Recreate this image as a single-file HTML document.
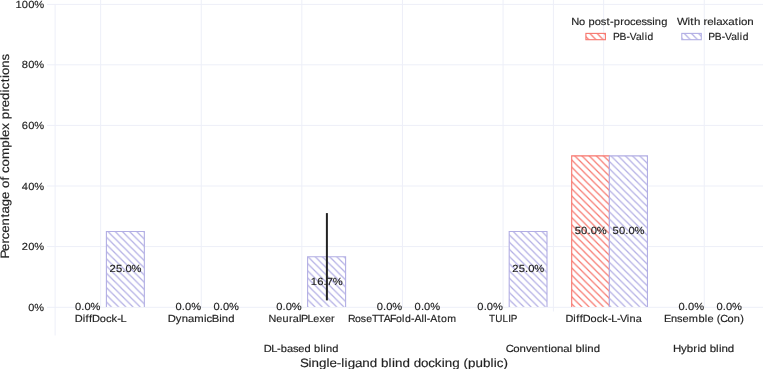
<!DOCTYPE html>
<html><head><meta charset="utf-8"><title>chart</title>
<style>
html,body{margin:0;padding:0;background:#fff;width:763px;height:369px;overflow:hidden;}
svg{display:block;text-rendering:geometricPrecision;will-change:transform;}
text{font-family:"Liberation Sans",sans-serif;fill:#222;stroke:#222;stroke-width:0.15px;}
</style></head>
<body>
<svg width="763" height="369" viewBox="0 0 763 369">
<rect x="0" y="0" width="763" height="369" fill="#fff"/>
<line x1="47" y1="4.4" x2="763" y2="4.4" stroke="#EDEFF8" stroke-width="1"/>
<line x1="47" y1="64.8" x2="763" y2="64.8" stroke="#EDEFF8" stroke-width="1"/>
<line x1="47" y1="125.4" x2="763" y2="125.4" stroke="#EDEFF8" stroke-width="1"/>
<line x1="47" y1="186.0" x2="763" y2="186.0" stroke="#EDEFF8" stroke-width="1"/>
<line x1="47" y1="246.6" x2="763" y2="246.6" stroke="#EDEFF8" stroke-width="1"/>
<line x1="47" y1="307.3" x2="763" y2="307.3" stroke="#EDEFF8" stroke-width="1"/>
<line x1="100.65" y1="0" x2="100.65" y2="307.3" stroke="#EDEFF8" stroke-width="1"/>
<line x1="201.25" y1="0" x2="201.25" y2="307.3" stroke="#EDEFF8" stroke-width="1"/>
<line x1="301.85" y1="0" x2="301.85" y2="307.3" stroke="#EDEFF8" stroke-width="1"/>
<line x1="402.45" y1="0" x2="402.45" y2="307.3" stroke="#EDEFF8" stroke-width="1"/>
<line x1="503.05" y1="0" x2="503.05" y2="307.3" stroke="#EDEFF8" stroke-width="1"/>
<line x1="603.65" y1="0" x2="603.65" y2="307.3" stroke="#EDEFF8" stroke-width="1"/>
<line x1="704.25" y1="0" x2="704.25" y2="307.3" stroke="#EDEFF8" stroke-width="1"/>
<line x1="55.1" y1="4.4" x2="55.1" y2="335.5" stroke="#EDEFF8" stroke-width="1"/>
<line x1="553.4" y1="0" x2="553.4" y2="311.5" stroke="#EDEFF8" stroke-width="1"/>
<defs><pattern id="p0b" patternUnits="userSpaceOnUse" x="6.0" y="0" width="7.2" height="7.2"><path d="M-7.2,-7.2L14.4,14.4M-7.2,0L7.2,14.4M0,-7.2L14.4,7.2" stroke="#B2AEE4" stroke-width="1.25" fill="none"/></pattern><pattern id="p2b" patternUnits="userSpaceOnUse" x="0.85" y="0" width="7.2" height="7.2"><path d="M-7.2,-7.2L14.4,14.4M-7.2,0L7.2,14.4M0,-7.2L14.4,7.2" stroke="#B2AEE4" stroke-width="1.25" fill="none"/></pattern><pattern id="p4b" patternUnits="userSpaceOnUse" x="0.85" y="0" width="7.2" height="7.2"><path d="M-7.2,-7.2L14.4,14.4M-7.2,0L7.2,14.4M0,-7.2L14.4,7.2" stroke="#B2AEE4" stroke-width="1.25" fill="none"/></pattern><pattern id="p5r" patternUnits="userSpaceOnUse" x="1.3" y="0" width="7.2" height="7.2"><path d="M-7.2,-7.2L14.4,14.4M-7.2,0L7.2,14.4M0,-7.2L14.4,7.2" stroke="#F7766D" stroke-width="1.25" fill="none"/></pattern><pattern id="p5b" patternUnits="userSpaceOnUse" x="1.5" y="0" width="7.2" height="7.2"><path d="M-7.2,-7.2L14.4,14.4M-7.2,0L7.2,14.4M0,-7.2L14.4,7.2" stroke="#B2AEE4" stroke-width="1.25" fill="none"/></pattern><pattern id="prL" patternUnits="userSpaceOnUse" x="2.0" y="0" width="7.2" height="7.2"><path d="M-7.2,-7.2L14.4,14.4M-7.2,0L7.2,14.4M0,-7.2L14.4,7.2" stroke="#F7766D" stroke-width="1.25" fill="none"/></pattern><pattern id="pbL" patternUnits="userSpaceOnUse" x="2.7" y="0" width="7.2" height="7.2"><path d="M-7.2,-7.2L14.4,14.4M-7.2,0L7.2,14.4M0,-7.2L14.4,7.2" stroke="#B2AEE4" stroke-width="1.25" fill="none"/></pattern></defs>
<rect x="106.40" y="231.57" width="37.95" height="75.32" fill="#fff"/><rect x="106.40" y="231.57" width="37.95" height="75.32" fill="url(#p0b)"/><path d="M106.40,306.9V231.57H144.35V306.9" fill="none" stroke="#B2AEE4" stroke-width="1.1"/>
<rect x="307.60" y="256.81" width="38.00" height="50.09" fill="#fff"/><rect x="307.60" y="256.81" width="38.00" height="50.09" fill="url(#p2b)"/><path d="M307.60,306.9V256.81H345.60V306.9" fill="none" stroke="#B2AEE4" stroke-width="1.1"/>
<rect x="509.20" y="231.57" width="37.80" height="75.32" fill="#fff"/><rect x="509.20" y="231.57" width="37.80" height="75.32" fill="url(#p4b)"/><path d="M509.20,306.9V231.57H547.00V306.9" fill="none" stroke="#B2AEE4" stroke-width="1.1"/>
<rect x="571.70" y="155.85" width="37.70" height="151.05" fill="#fff"/><rect x="571.70" y="155.85" width="37.70" height="151.05" fill="url(#p5r)"/><path d="M571.70,306.9V155.85H609.40V306.9" fill="none" stroke="#F7766D" stroke-width="1.1"/>
<rect x="609.40" y="155.85" width="38.05" height="151.05" fill="#fff"/><rect x="609.40" y="155.85" width="38.05" height="151.05" fill="url(#p5b)"/><path d="M609.40,306.9V155.85H647.45V306.9" fill="none" stroke="#B2AEE4" stroke-width="1.1"/>
<text transform="translate(74.85,309.99) scale(1.0822,1)" x="0.08 5.92 8.89 14.51" y="0" font-size="10.30">0.0%</text>
<text transform="translate(109.49,272.13) scale(1.0878,1)" x="0.06 5.91 11.73 14.68 20.26" y="0" font-size="10.30">25.0%</text>
<text transform="translate(175.45,309.99) scale(1.0822,1)" x="0.08 5.92 8.89 14.51" y="0" font-size="10.30">0.0%</text>
<text transform="translate(213.30,309.99) scale(1.0822,1)" x="0.08 5.92 8.89 14.51" y="0" font-size="10.30">0.0%</text>
<text transform="translate(276.05,309.99) scale(1.0822,1)" x="0.08 5.92 8.89 14.51" y="0" font-size="10.30">0.0%</text>
<text transform="translate(310.72,284.74) scale(1.0878,1)" x="0.06 5.91 11.73 14.68 20.26" y="0" font-size="10.30">16.7%</text>
<text transform="translate(376.65,309.99) scale(1.0822,1)" x="0.08 5.92 8.89 14.51" y="0" font-size="10.30">0.0%</text>
<text transform="translate(414.50,309.99) scale(1.0822,1)" x="0.08 5.92 8.89 14.51" y="0" font-size="10.30">0.0%</text>
<text transform="translate(477.25,309.99) scale(1.0822,1)" x="0.08 5.92 8.89 14.51" y="0" font-size="10.30">0.0%</text>
<text transform="translate(512.22,272.13) scale(1.0878,1)" x="0.06 5.91 11.73 14.68 20.26" y="0" font-size="10.30">25.0%</text>
<text transform="translate(574.67,234.26) scale(1.0878,1)" x="0.06 5.91 11.73 14.68 20.26" y="0" font-size="10.30">50.0%</text>
<text transform="translate(612.54,234.26) scale(1.0878,1)" x="0.06 5.91 11.73 14.68 20.26" y="0" font-size="10.30">50.0%</text>
<text transform="translate(678.45,309.99) scale(1.0822,1)" x="0.08 5.92 8.89 14.51" y="0" font-size="10.30">0.0%</text>
<text transform="translate(716.30,309.99) scale(1.0822,1)" x="0.08 5.92 8.89 14.51" y="0" font-size="10.30">0.0%</text>
<line x1="326.9" y1="213.1" x2="326.9" y2="300.4" stroke="#222" stroke-width="2"/>
<text transform="translate(15.35,8.04) scale(1.0853,1)" x="0.07 5.93 11.79 17.39" y="0" font-size="10.30">100%</text>
<text transform="translate(21.72,68.44) scale(1.0782,1)" x="0.09 5.99 11.63" y="0" font-size="10.30">80%</text>
<text transform="translate(21.72,129.04) scale(1.0782,1)" x="0.09 5.99 11.63" y="0" font-size="10.30">60%</text>
<text transform="translate(21.72,189.64) scale(1.0782,1)" x="0.09 5.99 11.63" y="0" font-size="10.30">40%</text>
<text transform="translate(21.72,250.24) scale(1.0782,1)" x="0.09 5.99 11.63" y="0" font-size="10.30">20%</text>
<text transform="translate(28.07,310.94) scale(1.0657,1)" x="0.12 5.85" y="0" font-size="10.30">0%</text>
<text transform="translate(9.3,155.65) rotate(-90) translate(-102.03,0.00) scale(1.0960,1)" x="-0.80 6.21 12.87 16.89 22.68 29.37 36.56 40.26 46.95 53.65 60.33 63.63 70.48 74.07 77.38 83.27 90.09 100.39 107.31 110.07 116.79 122.91 126.34 133.29 137.33 143.91 150.82 153.58 159.97 163.90 166.65 173.32 179.86" y="0" font-size="12.10">Percentage of complex predictions</text>
<text transform="translate(74.82,321.60) scale(1.0745,1)" x="-0.14 7.31 9.96 13.17 16.03 23.31 29.01 34.26 39.49 42.62" y="0" font-size="10.30">DiffDock-L</text>
<text transform="translate(168.04,321.60) scale(1.0947,1)" x="-0.20 7.16 12.47 18.16 23.99 32.85 35.20 39.98 46.68 49.12 54.92" y="0" font-size="10.30">DynamicBind</text>
<text transform="translate(268.72,321.60) scale(1.0522,1)" x="-0.16 7.17 13.10 19.22 22.93 28.89 30.78 36.87 42.35 48.21 53.43 59.31" y="0" font-size="10.30">NeuralPLexer</text>
<text transform="translate(348.28,321.60) scale(1.0233,1)" x="-0.32 6.70 12.30 17.56 23.27 29.16 34.73 40.79 46.70 52.59 55.33 61.35 64.62 71.51 74.22 76.77 80.05 87.12 90.51 96.83" y="0" font-size="10.30">RoseTTAFold-All-Atom</text>
<text transform="translate(489.06,321.60) scale(0.9585,1)" x="0.04 6.47 14.05 19.93 22.61" y="0" font-size="10.30">TULIP</text>
<text transform="translate(565.47,321.60) scale(1.0589,1)" x="-0.08 7.44 10.13 13.38 16.32 23.70 29.47 34.80 40.10 43.29 48.69 51.54 57.99 60.47 66.36" y="0" font-size="10.30">DiffDock-L-Vina</text>
<text transform="translate(664.52,321.60) scale(1.0677,1)" x="-0.48 6.02 11.72 16.75 22.77 31.73 37.72 40.18 45.99 49.02 52.11 59.10 64.93 70.88" y="0" font-size="10.30">Ensemble (Con)</text>
<text transform="translate(263.94,351.60) scale(1.0776,1)" x="-0.15 6.87 12.19 15.58 21.37 26.92 31.90 37.70 43.56 46.54 52.50 55.08 57.59 63.47" y="0" font-size="10.30">DL-based blind</text>
<text transform="translate(506.34,351.60) scale(1.1054,1)" x="-0.56 6.22 11.85 17.69 22.86 28.51 34.58 37.90 40.20 45.84 51.48 57.23 59.63 62.51 68.36 70.87 73.27 79.01" y="0" font-size="10.30">Conventional blind</text>
<text transform="translate(673.46,351.60) scale(1.1178,1)" x="-0.36 6.80 12.00 17.82 21.48 23.84 29.53 32.36 38.16 40.65 43.01 48.68" y="0" font-size="10.30">Hybrid blind</text>
<text transform="translate(300.84,366.90) scale(1.1076,1)" x="-0.67 6.86 9.68 16.41 23.27 25.98 32.51 36.57 39.52 42.34 48.95 55.56 62.29 69.03 72.40 79.26 82.21 85.02 91.75 98.49 101.86 108.47 114.97 120.96 127.18 130.00 136.73 143.46 146.88 150.97 157.70 164.43 171.29 174.24 176.95 182.94" y="0" font-size="12.10">Single-ligand blind docking (public)</text>
<text transform="translate(571.62,25.30) scale(1.0804,1)" x="-0.26 6.89 12.63 15.60 21.37 26.90 32.27 35.47 38.93 44.92 48.40 53.97 59.07 64.62 69.44 74.56 77.06 82.93" y="0" font-size="10.30">No post-processing</text>
<text transform="translate(677.57,25.30) scale(1.1162,1)" x="-0.43 8.86 11.48 14.64 20.33 23.32 26.67 32.29 34.56 40.24 45.35 51.28 54.57 56.84 62.42" y="0" font-size="10.30">With relaxation</text>
<text transform="translate(613.52,39.90) scale(0.9984,1)" x="-0.42 6.04 13.00 16.22 22.61 28.40 31.18 34.03" y="0" font-size="10.30">PB-Valid</text>
<text transform="translate(708.73,39.90) scale(0.9984,1)" x="-0.42 6.04 13.00 16.22 22.61 28.40 31.18 34.03" y="0" font-size="10.30">PB-Valid</text>
<rect x="585.9" y="33.4" width="19.50" height="6.30" fill="url(#prL)" stroke="#F7766D" stroke-width="1.1"/>
<rect x="681.8" y="33.4" width="19.50" height="6.30" fill="url(#pbL)" stroke="#B2AEE4" stroke-width="1.1"/>
</svg>
</body></html>
